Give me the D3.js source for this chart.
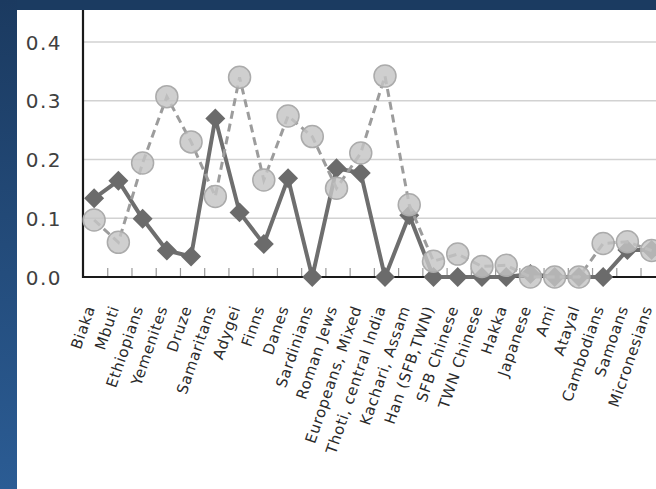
<!DOCTYPE html>
<html><head><meta charset="utf-8">
<script src="https://cdn.jsdelivr.net/npm/d3@7"></script>
<style>html,body{margin:0;padding:0;overflow:hidden;background:#fff}</style>
</head><body>
<svg id="c" width="656" height="489"></svg>
<script>
const categories = ["Biaka","Mbuti","Ethiopians","Yemenites","Druze","Samaritans","Adygei","Finns","Danes","Sardinians","Roman Jews","Europeans, Mixed","Thoti, central India","Kachari, Assam","Han (SFB,TWN)","SFB Chinese","TWN Chinese","Hakka","Japanese","Ami","Atayal","Cambodians","Samoans","Micronesians"];
const diamondValues = [0.134,0.164,0.099,0.045,0.035,0.270,0.110,0.056,0.168,0.0,0.185,0.177,0.0,0.105,0.0,0.0,0.0,0.0,0.005,0.0,0.0,0.0,0.046,0.046];
const circleValues = [0.097,0.059,0.194,0.307,0.230,0.137,0.340,0.165,0.274,0.239,0.151,0.211,0.342,0.123,0.027,0.039,0.018,0.020,0.0,0.0,0.0,0.057,0.060,0.045];
const yTicks = [0,0.1,0.2,0.3,0.4];

const svg = d3.select("#c");
const W = 656, H = 489;
const defs = svg.append("defs");
const g1 = defs.append("linearGradient").attr("id","bg").attr("x1",0).attr("y1",0).attr("x2",0).attr("y2",1);
g1.append("stop").attr("offset","0%").attr("stop-color","#1b3a60");
g1.append("stop").attr("offset","100%").attr("stop-color","#2b5c94");
svg.append("rect").attr("width",W).attr("height",H).attr("fill","url(#bg)");
svg.append("rect").attr("x",17).attr("y",0).attr("width",W-17).attr("height",10).attr("fill","#1b3b61");
svg.append("rect").attr("x",17).attr("y",10).attr("width",W-17).attr("height",H-10).attr("fill","#ffffff");

const x = d3.scaleBand().domain(categories).range([82, 82 + 24*24.24]).padding(0);
const y = d3.scaleLinear().domain([0,0.4]).range([277,42]);
const cx = d => x(d) + x.bandwidth()/2;

const chart = svg.append("g");
// gridlines
chart.selectAll("line.grid").data(yTicks.filter(t=>t>0)).join("line")
  .attr("x1",84).attr("x2",W).attr("y1",d=>y(d)).attr("y2",d=>y(d))
  .attr("stroke","#d2d2d2").attr("stroke-width",1.5);

// y axis labels
const yAxis = chart.append("g").attr("transform","translate(62,0)")
  .call(d3.axisLeft(y).tickValues(yTicks).tickFormat(d3.format(".1f")).tickSize(0).tickPadding(0));
yAxis.select(".domain").remove();
yAxis.selectAll("text").attr("font-family","'DejaVu Sans', sans-serif").attr("font-size",20)
  .attr("fill","#404040").attr("letter-spacing","1.5px").attr("dy","0.36em");

// tick marks between categories
chart.selectAll("line.tk").data(categories.slice(1)).join("line")
  .attr("x1",d=>x(d)+1.5).attr("x2",d=>x(d)+1.5).attr("y1",268).attr("y2",277)
  .attr("stroke","#9a9a9a").attr("stroke-width",1.2);

// axes lines
chart.append("line").attr("x1",82).attr("x2",W).attr("y1",277).attr("y2",277).attr("stroke","#1a1a1a").attr("stroke-width",2.2);
chart.append("line").attr("x1",83).attr("x2",83).attr("y1",10).attr("y2",278).attr("stroke","#1a1a1a").attr("stroke-width",2.2);

// x labels
const xAxis = chart.append("g").attr("transform","translate(0,277)")
  .call(d3.axisBottom(x).tickSize(0).tickPadding(0));
xAxis.select(".domain").remove();
xAxis.selectAll("text")
  .attr("font-family","'DejaVu Sans', sans-serif").attr("font-size",15).attr("fill","#2a2a2a")
  .attr("letter-spacing","0.7px")
  .attr("text-anchor","end").attr("dy",0).attr("y",0)
  .attr("transform","translate(1,31) rotate(-71)");

// solid diamond series
const dData = categories.map((c,i)=>({c,v:diamondValues[i]}));
const cData = categories.map((c,i)=>({c,v:circleValues[i]}));
const line = d3.line().x(d=>cx(d.c)).y(d=>y(d.v));
chart.append("path").datum(dData).attr("d",line).attr("fill","none")
  .attr("stroke","#6e6e6e").attr("stroke-width",4).attr("stroke-linejoin","round");
chart.selectAll("path.dia").data(dData).join("path")
  .attr("d",d3.symbol().type(d3.symbolSquare).size(200))
  .attr("transform",d=>`translate(${cx(d.c)},${y(d.v)}) rotate(45)`)
  .attr("fill","#6b6b6b");

// dashed circle series
chart.append("path").datum(cData).attr("d",line).attr("fill","none")
  .attr("stroke","#9c9c9c").attr("stroke-width",3).attr("stroke-dasharray","8,5");
chart.selectAll("circle.pt").data(cData).join("circle")
  .attr("cx",d=>cx(d.c)).attr("cy",d=>y(d.v)).attr("r",11)
  .attr("fill","rgba(196,196,196,0.82)").attr("stroke","#ababab").attr("stroke-width",1.5);
</script>
</body></html>
